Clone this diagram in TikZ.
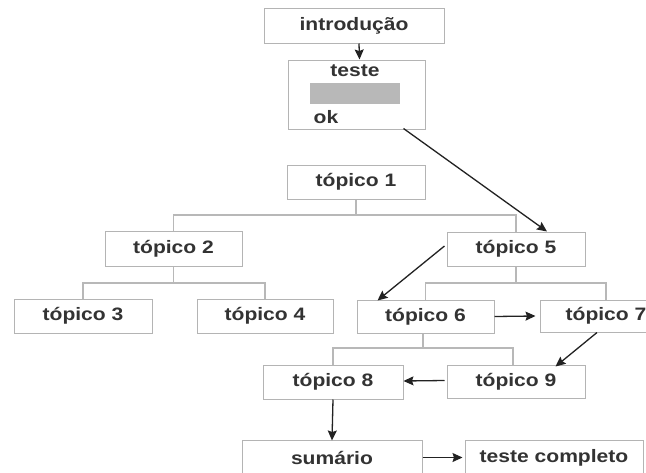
\documentclass[tikz,border=0pt]{standalone}
\usepackage{fontspec}
\setmainfont{Liberation Sans}[FakeStretch=1.17]
\usetikzlibrary{arrows.meta}
\definecolor{txt}{HTML}{333333}
\definecolor{boxc}{HTML}{B4B4B4}
\definecolor{treec}{HTML}{B8B8B8}
\definecolor{arr}{HTML}{222222}
\begin{document}
\begin{tikzpicture}[x=1pt,y=-1pt,
  box/.style={draw=boxc, line width=1pt, fill=white, minimum height=34pt, inner sep=0pt,
    font=\fontsize{18}{20}\selectfont\bfseries, text=txt},
  tree/.style={draw=treec, line width=1.1pt},
  arrowc/.style={draw=arr, line width=1.3pt, -{Stealth[length=10pt,width=9pt,inset=1.5pt]}},
  lbl/.style={inner sep=0pt, font=\fontsize{18}{20}\selectfont\bfseries, text=txt}]
\useasboundingbox (0,0) rectangle (646,472);
\clip (0,0) rectangle (646,472);
\fill[white] (0,0) rectangle (646,472);
% nodes
\node[box, minimum width=180pt, minimum height=35pt] (intro) at (354,25.5) {introdução};
\node[box, minimum width=137pt, minimum height=69pt] (teste) at (356.5,94.5) {};
\node[lbl] (testel) at (355,71) {teste};
\node[fill=black!28, minimum width=90pt, minimum height=21pt, inner sep=0pt] (grey) at (355,93.5) {};
\node[lbl] (okl) at (326,117) {ok};
\node[box, minimum width=138pt] (t1) at (356,182) {tópico 1};
\node[box, minimum width=137pt, minimum height=35pt] (t2) at (173.5,248.5) {tópico 2};
\node[box, minimum width=138pt] (t3) at (83,316) {tópico 3};
\node[box, minimum width=136pt] (t4) at (265,316) {tópico 4};
\node[box, minimum width=138pt] (t5) at (516,249) {tópico 5};
\node[box, minimum width=137pt, minimum height=33pt] (t6) at (425.5,316.5) {tópico 6};
\node[box, minimum width=132pt, minimum height=32pt] (t7) at (606,316) {tópico 7};
\node[box, minimum width=140pt] (t8) at (333,382) {tópico 8};
\node[box, minimum width=138pt, minimum height=33pt] (t9) at (516,381.5) {tópico 9};
\node[box, minimum width=180pt, minimum height=35pt] (sum) at (332,457.5) {sumário};
\node[box, minimum width=178pt, minimum height=35pt] (tc) at (554,457.5) {teste completo};
% tree connectors
\coordinate (j1) at (356,215);
\coordinate (j2) at (173.5,283);
\coordinate (j5) at (516,283);
\coordinate (j6) at (423,348);
\draw[tree] (t1.south -| j1) -- (j1);
\draw[tree] (t2.north) |- (j1) -| (t5.north);
\draw[tree] (t2.south) -- (j2);
\draw[tree] (t3.north) |- (j2) -| (t4.north);
\draw[tree] (t5.south) -- (j5);
\draw[tree] (t6.north) |- (j5) -| (t7.north);
\draw[tree] (t6.south -| j6) -- (j6);
\draw[tree] (t8.north) |- (j6) -| (t9.north -| 513,0);
% arrows
\draw[arrowc] ([xshift=5pt]intro.south) -- ([xshift=3pt]teste.north);
\draw[arrowc] ([xshift=-22pt,yshift=1pt]teste.south east) -- ([xshift=31pt]t5.north);
\draw[arrowc] ([xshift=-2pt,yshift=3pt]t5.west) -- ([xshift=21pt,yshift=-1pt]t6.north west);
\draw[arrowc] (t6.east) -- ([xshift=-4pt]t7.west);
\draw[arrowc] ([xshift=-9pt]t7.south) -- ([xshift=-30pt,yshift=-2pt]t9.north east);
\draw[arrowc] ([xshift=-2pt,yshift=1pt]t9.west) -- ([yshift=1pt]t8.east);
\draw[arrowc] (t8.south) -- ([yshift=-1pt]sum.north);
\draw[arrowc] (sum.east) -- ([xshift=-2pt]tc.west);
\end{tikzpicture}
\end{document}
